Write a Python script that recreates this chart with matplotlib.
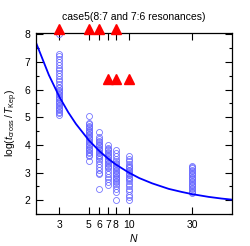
import matplotlib
matplotlib.use('Agg')
import matplotlib.pyplot as plt

plt.rcParams['font.family'] = ['Liberation Sans', 'DejaVu Sans']
plt.rcParams['mathtext.fontset'] = 'custom'
plt.rcParams['mathtext.it'] = 'Liberation Sans:italic'
plt.rcParams['mathtext.rm'] = 'Liberation Sans'

# simulation results: log(t_cross/T_Kep) for each N
n3 = [5.1, 5.15, 5.2, 5.25, 5.3, 5.35, 5.4, 5.45, 5.5, 5.55, 5.6, 5.65, 5.7, 5.75, 5.8,
      5.85, 5.9, 5.95, 6.0, 6.05, 6.1, 6.2, 6.3, 6.4, 6.5, 6.6, 6.7, 6.8, 6.9, 7.0,
      7.1, 7.2, 7.3, 8.0]
n5 = [3.4, 3.6, 3.65, 3.7, 3.75, 3.8, 3.85, 3.9, 3.95, 4.0, 4.05, 4.1, 4.15, 4.2,
      4.25, 4.3, 4.35, 4.4, 4.45, 4.5, 4.55, 4.6, 4.65, 4.7, 4.75, 4.8, 5.05]
n6 = [2.4, 2.95, 3.0, 3.1, 3.2, 3.3, 3.4, 3.5, 3.55, 3.6, 3.65, 3.7, 3.75, 3.8,
      3.85, 3.9, 3.95, 4.0, 4.05, 4.1, 4.15, 4.2, 4.3, 4.45]
n7 = [2.55, 2.65, 2.75, 2.85, 2.95, 3.05, 3.15, 3.2, 3.25, 3.3, 3.35, 3.4, 3.45,
      3.5, 3.55, 3.6, 3.65, 3.7, 3.75, 3.8, 3.85, 3.9, 4.0]
n8 = [2.0, 2.3, 2.4, 2.5, 2.6, 2.65, 2.7, 2.75, 2.8, 2.85, 2.9, 2.95, 3.0, 3.05,
      3.1, 3.15, 3.2, 3.25, 3.3, 3.35, 3.4, 3.5, 3.6, 3.7, 3.8]
n10 = [2.0, 2.1, 2.2, 2.35, 2.4, 2.5, 2.6, 2.7, 2.75, 2.8, 2.85, 2.9, 2.95, 3.0,
       3.05, 3.1, 3.15, 3.2, 3.25, 3.3, 3.4, 3.5, 3.6]
n30 = [2.25, 2.3, 2.35, 2.4, 2.45, 2.5, 2.55, 2.6, 2.65, 2.7, 2.75, 2.8, 2.85, 2.9,
       2.95, 3.0, 3.05, 3.1, 3.15, 3.2, 3.25]
sims = {3: n3, 5: n5, 6: n6, 7: n7, 8: n8, 10: n10, 30: n30}

# resonance cases (triangles)
res_n = [3, 5, 6, 8, 7, 8, 10]
res_t = [8.2, 8.2, 8.2, 8.2, 6.4, 6.37, 6.4]

# fitted curve
fit_n = [2, 2.5, 3, 3.5, 4, 5, 6, 7, 8, 10, 12, 15, 20, 25, 30, 40, 50, 60]
fit_t = [7.70, 6.53, 5.74, 5.18, 4.76, 4.17, 3.78, 3.50, 3.29, 3.00, 2.80,
         2.61, 2.41, 2.30, 2.22, 2.12, 2.06, 2.02]

xticks = [3, 5, 6, 7, 8, 10, 30]

fig = plt.figure(figsize=(2.5, 2.46), dpi=100)
ax = fig.add_axes([0.144, 0.130, 0.784, 0.736])

for n, vals in sims.items():
    ax.plot([n] * len(vals), vals, 'o', mfc='none', mec='#6a6aff', mew=0.55,
            ms=4.3)
ax.plot(fit_n, fit_t, '-', color='#0000ff', lw=1.3)
ax.plot(res_n, res_t, '^', color='#ff0000', ms=6.5, clip_on=False, zorder=5)

ax.set_xscale('log')
ax.set_xlim(2, 60)
ax.set_ylim(1.5, 8.05)
ax.set_xticks(xticks)
ax.set_xticklabels([str(t) for t in xticks])
ax.xaxis.set_minor_locator(matplotlib.ticker.NullLocator())
ax.set_yticks([2, 3, 4, 5, 6, 7, 8])
ax.yaxis.set_minor_locator(matplotlib.ticker.MultipleLocator(0.5))
ax.tick_params(which='both', direction='in', top=True, right=True, labelsize=7.5)
ax.tick_params(which='major', length=5, width=0.8, pad=4)
ax.tick_params(which='minor', length=2.5, width=0.8)
for s in ax.spines.values():
    s.set_linewidth(0.9)

ax.set_xlabel(r'$N$', fontsize=7.5, labelpad=2)
ax.set_ylabel(r'log($t_{\rm cross}\,/\,T_{\rm Kep}$)', fontsize=7.5, labelpad=3)
ax.set_title('case5(8:7 and 7:6 resonances)', fontsize=7.5, pad=9)

fig.savefig('out.png', dpi=100)
